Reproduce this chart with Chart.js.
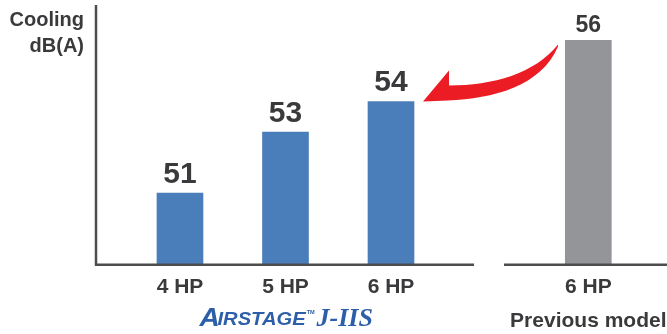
<!DOCTYPE html>
<html>
<head>
<meta charset="utf-8">
<script src="https://cdn.jsdelivr.net/npm/chart.js@4/dist/chart.umd.min.js"></script>
<style>
  html, body { margin: 0; padding: 0; background: #ffffff; }
  #wrap { position: relative; width: 667px; height: 334px; }
</style>
</head>
<body>
<div id="wrap"><canvas id="c" width="667" height="334"></canvas></div>
<script>
// ---- data ----
const categories = ['4 HP', '5 HP', '6 HP', '6 HP'];
const newModelValues = [51, 53, 54];      // AIRSTAGE J-IIS
const previousModelValues = [56];         // Previous model, 6 HP
const seriesNames = ['AIRSTAGE J-IIS', 'Previous model'];
const axisTitle = ['Cooling', 'dB(A)'];
const groupLabel = 'Previous model';

// ---- layout (slot positions on the x scale, not data) ----
const slots = [1, 2, 3, 4.87];
const leftBaseEnd = 3.787, rightBaseStart = 4.071;

const FONT = '"Liberation Sans", Arial, Helvetica, sans-serif';
const TEXT = '#3a3a3c';
const AXIS = '#4d4d4f';
const BLUE = '#4a7ebb';
const GREY = '#939598';
const RED = '#ec1c24';

const decor = {
  id: 'decor',
  afterDatasetsDraw(chart) {
    const ctx = chart.ctx;
    const area = chart.chartArea;
    const xs = chart.scales.x;
    ctx.save();
    // axes
    ctx.strokeStyle = AXIS;
    ctx.lineWidth = 2.5;
    ctx.beginPath();
    ctx.moveTo(area.left, area.top);
    ctx.lineTo(area.left, area.bottom + 1);
    ctx.moveTo(area.left - 1, area.bottom);
    ctx.lineTo(xs.getPixelForValue(leftBaseEnd), area.bottom);
    ctx.moveTo(xs.getPixelForValue(rightBaseStart), area.bottom);
    ctx.lineTo(area.right, area.bottom);
    ctx.stroke();

    // value labels
    ctx.fillStyle = TEXT;
    ctx.textAlign = 'center';
    ctx.textBaseline = 'alphabetic';
    const m0 = chart.getDatasetMeta(0);
    m0.data.forEach((bar, i) => {
      ctx.font = 'bold 30px ' + FONT;
      ctx.fillText(String(newModelValues[i]), bar.x, bar.y - 10);
    });
    const m1 = chart.getDatasetMeta(1);
    m1.data.forEach((bar, i) => {
      ctx.font = 'bold 23px ' + FONT;
      ctx.fillText(String(previousModelValues[i]), bar.x, bar.y - 8);
    });

    // axis title
    ctx.textAlign = 'right';
    ctx.font = 'bold 20px ' + FONT;
    ctx.fillText(axisTitle[0], area.left - 12, 26);
    ctx.fillText(axisTitle[1], area.left - 12, 52);

    // group label under previous model
    const g = m1.data[0];
    ctx.textAlign = 'center';
    ctx.font = 'bold 21px ' + FONT;
    ctx.fillText(groupLabel, g.x, 327);

    // red curved arrow from previous model bar to the 6 HP bar
    const b6 = m0.data[m0.data.length - 1];
    const tipX = b6.x + b6.width / 2 + 9, tipY = b6.y;
    ctx.fillStyle = RED;
    ctx.beginPath();
    ctx.moveTo(tipX, tipY);
    ctx.lineTo(tipX + 26, tipY - 31);
    ctx.lineTo(tipX + 26, tipY - 16);
    ctx.bezierCurveTo(tipX + 70, tipY - 16, tipX + 112, tipY - 28, tipX + 135, tipY - 57);
    ctx.lineTo(tipX + 135, tipY - 55);
    ctx.bezierCurveTo(tipX + 118, tipY - 15, tipX + 70, tipY - 3, tipX + 25, tipY - 1);
    ctx.closePath();
    ctx.fill();

    // logo text under the new model group
    const cx = (m0.data[0].x + m0.data[2].x) / 2;
    const lx = cx - 86;
    ctx.fillStyle = '#2c5ea9';
    ctx.textAlign = 'left';
    ctx.save();
    ctx.translate(lx, 326);
    ctx.scale(1.12, 1);
    ctx.font = 'italic bold 25px ' + FONT;
    ctx.fillText('A', 0, 0);
    const aw = ctx.measureText('A').width;
    ctx.font = 'italic bold 18px ' + FONT;
    ctx.fillText('IRSTAGE', aw - 2, -1);
    const iw = ctx.measureText('IRSTAGE').width;
    ctx.font = 'bold 5px ' + FONT;
    ctx.fillText('TM', aw + iw - 1, -12);
    ctx.restore();
    ctx.font = 'italic bold 26px "Liberation Serif", "Times New Roman", serif';
    ctx.fillText('J-IIS', lx + 117, 326);
    ctx.restore();
  }
};

new Chart(document.getElementById('c'), {
  type: 'bar',
  data: {
    datasets: [
      {
        label: seriesNames[0],
        data: newModelValues.map((v, i) => ({ x: slots[i], y: v })),
        backgroundColor: BLUE,
        borderWidth: 0
      },
      {
        label: seriesNames[1],
        data: previousModelValues.map((v, i) => ({ x: slots[3 + i], y: v })),
        backgroundColor: GREY,
        borderWidth: 0
      }
    ]
  },
  options: {
    responsive: false,
    animation: false,
    devicePixelRatio: 1,
    grouped: false,
    barThickness: 46,
    layout: { padding: { top: 5, left: 96, right: 0, bottom: 24 } },
    plugins: { legend: { display: false }, tooltip: { enabled: false } },
    scales: {
      x: {
        type: 'linear',
        min: 0.204,
        max: 5.616,
        offset: false,
        grid: { display: false, drawTicks: false },
        border: { display: false },
        afterBuildTicks: (scale) => { scale.ticks = slots.map(v => ({ value: v })); },
        ticks: {
          autoSkip: false,
          maxRotation: 0,
          minRotation: 0,
          padding: 10,
          color: TEXT,
          font: { family: FONT, size: 21, weight: 'bold' },
          callback: (value, index) => categories[index]
        }
      },
      y: {
        display: false,
        min: 48.65,
        max: 57.16
      }
    }
  },
  plugins: [decor]
});
</script>
</body>
</html>
